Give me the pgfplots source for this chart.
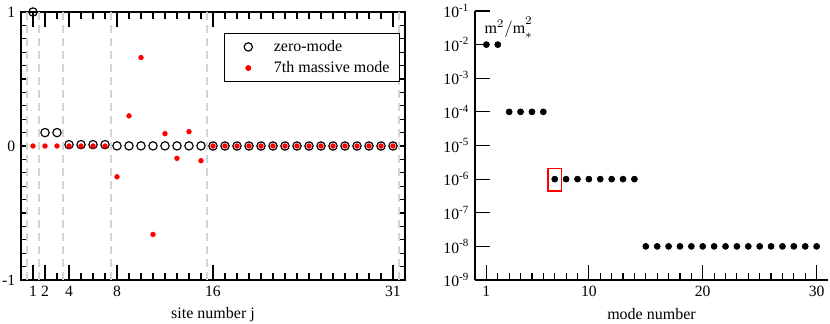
\documentclass[border=0pt]{standalone}
\usepackage{pgfplots}
\pgfplotsset{compat=1.18}
\usepackage{fontspec}
\setmainfont{Liberation Serif}
\setmathrm{Liberation Serif}
\definecolor{guide}{RGB}{212,212,212}
\definecolor{mred}{RGB}{255,0,0}

\pgfplotsset{
  every axis/.append style={
    scale only axis,
    axis line style={line width=0.7pt},
    tick style={black, line width=0.7pt},
    major tick length=9pt,
    minor tick length=4.2pt,
    tick align=inside,
    /pgf/number format/assume math mode=true,
    tick label style={font=\fontsize{9.4}{11}\selectfont},
    label style={font=\fontsize{9.6}{11}\selectfont},
  },
  mylegimg/.style={legend image code/.code={%
    \path (0pt,0pt) (23pt,0pt);
    \draw[mark repeat=2,mark phase=2,##1] plot coordinates {(0pt,0pt)(10pt,0pt)(20pt,0pt)};}},
}

\begin{document}
\begin{tikzpicture}[font=\fontsize{9.6}{11}\selectfont]
\useasboundingbox (-12.6pt,-26.4pt) rectangle (485.4pt,168pt);

% left: site profile of the zero-mode and the 7th massive mode
\begin{axis}[
  at={(0pt,0pt)}, anchor=south west,
  width=230.4pt, height=160.8pt,
  xmin=0, xmax=32, ymin=-1, ymax=1,
  xtick={1,2,4,8,16,31},
  minor xtick={1,...,31},
  ytick={-1,0,1},
  yticklabels={-1,0,1},
  minor ytick={-0.9,-0.8,...,0.95},
  every major y tick/.append style={draw=none},
  xlabel={site number j},
  clip=false,
  legend style={at={(0.987,0.922)}, anchor=north east, draw=black,
    line width=0.7pt, inner xsep=4pt, inner ysep=2pt, row sep=0.5pt,
    font=\fontsize{9.6}{11}\selectfont, cells={anchor=west}},
]
\addplot[guide, line width=1.6pt, dash pattern=on 4.8pt off 3pt, forget plot] coordinates {(0.5,-1) (0.5,1)};
\addplot[guide, line width=1.6pt, dash pattern=on 4.8pt off 3pt, forget plot] coordinates {(1.5,-1) (1.5,1)};
\addplot[guide, line width=1.6pt, dash pattern=on 4.8pt off 3pt, forget plot] coordinates {(3.5,-1) (3.5,1)};
\addplot[guide, line width=1.6pt, dash pattern=on 4.8pt off 3pt, forget plot] coordinates {(7.5,-1) (7.5,1)};
\addplot[guide, line width=1.6pt, dash pattern=on 4.8pt off 3pt, forget plot] coordinates {(15.5,-1) (15.5,1)};
\addplot[guide, line width=1.6pt, dash pattern=on 4.8pt off 3pt, forget plot] coordinates {(31.5,-1) (31.5,1)};

\addplot[only marks, mark=o, mark size=2.5pt, black, line width=0.7pt, mylegimg] coordinates {
  (1,1.0) (2,0.1) (3,0.1) (4,0.01) (5,0.01) (6,0.01) (7,0.01)
  (8,0.001) (9,0.001) (10,0.001) (11,0.001) (12,0.001) (13,0.001) (14,0.001) (15,0.001)
  (16,0) (17,0) (18,0) (19,0) (20,0) (21,0) (22,0) (23,0) (24,0) (25,0) (26,0) (27,0) (28,0) (29,0) (30,0) (31,0)
};
\addlegendentry{zero-mode}
\addplot[only marks, mark=*, mark size=1.4pt, mred, mylegimg] coordinates {
  (1,0) (2,0) (3,0) (4,0) (5,0) (6,0) (7,0)
  (8,-0.23) (9,0.225) (10,0.66) (11,-0.66) (12,0.092) (13,-0.092) (14,0.107) (15,-0.11)
  (16,0) (17,0) (18,0) (19,0) (20,0) (21,0) (22,0) (23,0) (24,0) (25,0) (26,0) (27,0) (28,0) (29,0) (30,0) (31,0)
};
\addlegendentry{7th massive mode}
\end{axis}

% right: mass spectrum
\begin{axis}[
  at={(272.4pt,0pt)}, anchor=south west,
  width=211.8pt, height=161.4pt,
  ymode=log,
  xmin=0, xmax=31, ymin=1e-9, ymax=1e-1,
  axis x line*=bottom, axis y line*=left,
  axis line style={-, line width=0.7pt},
  xtick={1,10,20,30},
  minor xtick={1,...,30},
  ytick={1e-9,1e-8,1e-7,1e-6,1e-5,1e-4,1e-3,1e-2,1e-1},
  yticklabels={10\textsuperscript{-9},10\textsuperscript{-8},10\textsuperscript{-7},10\textsuperscript{-6},10\textsuperscript{-5},10\textsuperscript{-4},10\textsuperscript{-3},10\textsuperscript{-2},10\textsuperscript{-1}},
  yminorticks=false,
  xlabel={mode number},
  clip=false,
]
\addplot[only marks, mark=*, mark size=1.8pt, black] coordinates {
  (1,1e-2) (2,1e-2)
  (3,1e-4) (4,1e-4) (5,1e-4) (6,1e-4)
  (7,1e-6) (8,1e-6) (9,1e-6) (10,1e-6) (11,1e-6) (12,1e-6) (13,1e-6) (14,1e-6)
  (15,1e-8) (16,1e-8) (17,1e-8) (18,1e-8) (19,1e-8) (20,1e-8) (21,1e-8) (22,1e-8)
  (23,1e-8) (24,1e-8) (25,1e-8) (26,1e-8) (27,1e-8) (28,1e-8) (29,1e-8) (30,1e-8)
};
\draw[mred, line width=0.8pt] (axis cs:6.4,2.1e-6) rectangle (axis cs:7.6,4.4e-7);
\node[anchor=base west, inner sep=0pt] at (rel axis cs:0.026,0.918)
  {$\mathrm{m}^{2}\mathrm{/m}_{*}^{2}$};
\end{axis}
\end{tikzpicture}
\end{document}
